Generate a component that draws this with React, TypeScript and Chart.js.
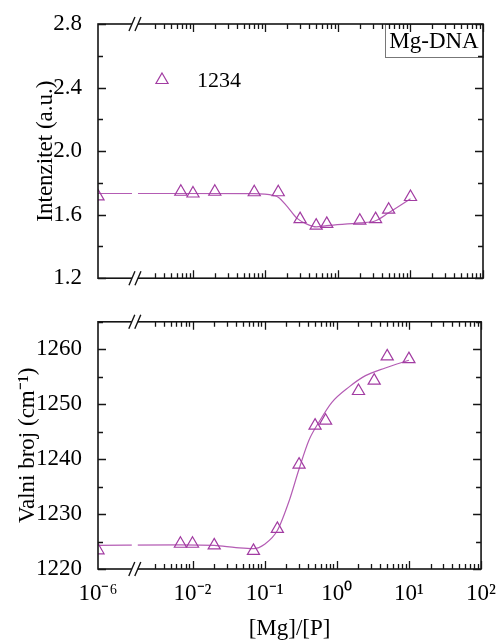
import React, { useEffect, useRef } from 'react';
import { Chart, registerables } from 'chart.js';

Chart.register(...registerables);

const FONT = "'Liberation Serif', 'Times New Roman', serif";
const PURPLE = '#A23CA2';
const PURPLE_LINE = '#B45CB4';

// ---- data ----
const mgP = [1e-6, 0.0068, 0.01, 0.02, 0.07, 0.15, 0.3, 0.5, 0.7, 2, 3.3, 5, 10];
const intensity = [1.715, 1.744, 1.733, 1.744, 1.741, 1.741, 1.572, 1.531, 1.542, 1.562, 1.572, 1.631, 1.711];
const wavenumber = [1223.4, 1224.6, 1224.6, 1224.3, 1223.3, 1227.3, 1239.0, 1246.1, 1247.0, 1252.4, 1254.3, 1258.7, 1258.2];

const fitTopX = [1e-6, 0.0068, 0.07, 0.13, 0.15, 0.2, 0.27, 0.37, 0.5, 0.7, 2, 3.3, 5, 10];
const fitTopY = [1.733, 1.733, 1.732, 1.72, 1.71, 1.65, 1.578, 1.541, 1.523, 1.531, 1.548, 1.562, 1.612, 1.7];

const fitBotX = [1e-6, 0.0068, 0.02, 0.04, 0.07, 0.1, 0.15, 0.22, 0.3, 0.41, 0.57, 0.85, 1.5, 2.5, 4.7, 10];
const fitBotY = [1224.3, 1224.4, 1224.3, 1223.9, 1223.7, 1224.5, 1227.0, 1232.5, 1238.2, 1243.4, 1246.8, 1250.3, 1253.2, 1255.2, 1256.6, 1258.0];

const xTickValues = [1e-6, 1e-2, 1e-1, 1, 10, 100];
const xTickLabels = ['10\u207B\u2076', '10\u207B\u00B2', '10\u207B\u00B9', '10\u2070', '10\u00B9', '10\u00B2'];

const legendLabel = '1234';
const boxLabel = 'Mg-DNA';
const topTitle = 'Intenzitet (a.u.)';
const botTitle = 'Valni broj (cm\u207B\u00B9)';
const xTitle = '[Mg]/[P]';

// broken log axis: 1e-6 shown left of the break
const LOW_VALUE = 1e-6;
const LOW_POS = -3.31;
const BREAK_POS = -2.8;
const X_MAX_POS = 2;
const tx = (v: number) => (v <= LOW_VALUE ? LOW_POS : Math.log10(v));

const toPts = (xs: number[], ys: number[]) => xs.map((x, i) => ({ x: tx(x), y: ys[i] }));

const MARKER_R = 7;

type Cfg = { yMin: number; yMax: number; yMinor: number; majorEvery: number; legend?: boolean; box?: boolean };

function decorPlugin(cfg: Cfg) {
  return {
    id: 'decor',
    afterDraw(chart: any) {
      const { ctx, chartArea } = chart;
      const { left, right, top, bottom } = chartArea;
      const xs = chart.scales.x;
      const ys = chart.scales.y;
      ctx.save();

      if (cfg.box) {
        const bw = 98, bh = 33;
        ctx.strokeStyle = '#777';
        ctx.lineWidth = 1;
        ctx.strokeRect(right - bw + 0.5, top + 0.5, bw, bh);
        ctx.fillStyle = '#000';
        ctx.font = `23px ${FONT}`;
        ctx.textAlign = 'center';
        ctx.textBaseline = 'middle';
        ctx.fillText(boxLabel, right - bw / 2, top + bh / 2 + 1);
      }

      if (cfg.legend) {
        const lx = left + 64, ly = top + 56, r = MARKER_R;
        ctx.strokeStyle = PURPLE;
        ctx.lineWidth = 1.2;
        ctx.beginPath();
        ctx.moveTo(lx, ly - r);
        ctx.lineTo(lx + r * 0.866, ly + r / 2);
        ctx.lineTo(lx - r * 0.866, ly + r / 2);
        ctx.closePath();
        ctx.stroke();
        ctx.fillStyle = '#000';
        ctx.font = `22px ${FONT}`;
        ctx.textAlign = 'left';
        ctx.textBaseline = 'middle';
        ctx.fillText(legendLabel, lx + 35, ly + 1);
      }

      // frame
      ctx.strokeStyle = '#151515';
      ctx.lineWidth = 1.6;
      ctx.strokeRect(left, top, right - left, bottom - top);

      // y ticks (both sides, inward)
      ctx.lineWidth = 1.3;
      ctx.beginPath();
      const n = Math.round((cfg.yMax - cfg.yMin) / cfg.yMinor);
      for (let i = 0; i <= n; i++) {
        const v = cfg.yMin + i * cfg.yMinor;
        const py = Math.round(ys.getPixelForValue(v)) + 0.5;
        const len = i % cfg.majorEvery === 0 ? 8 : 5;
        ctx.moveTo(left, py);
        ctx.lineTo(left + len, py);
        ctx.moveTo(right, py);
        ctx.lineTo(right - len, py);
      }
      // x ticks (top & bottom, inward)
      for (let d = -3; d <= 2; d++) {
        for (let k = 1; k <= 9; k++) {
          const pos = Math.log10(k) + d;
          if (pos < BREAK_POS + 0.2 || pos > X_MAX_POS + 1e-9) continue;
          const px = Math.round(xs.getPixelForValue(pos)) + 0.5;
          const len = k === 1 ? 8 : 5;
          ctx.moveTo(px, top);
          ctx.lineTo(px, top + len);
          ctx.moveTo(px, bottom);
          ctx.lineTo(px, bottom - len);
        }
      }
      ctx.stroke();

      // axis break
      const xb = xs.getPixelForValue(BREAK_POS);
      ctx.fillStyle = '#fff';
      ctx.fillRect(xb - 3, top - 2, 6, bottom - top + 4);
      ctx.strokeStyle = '#151515';
      ctx.lineWidth = 1.4;
      ctx.beginPath();
      for (const y of [top, bottom]) {
        for (const c of [-3, 3]) {
          ctx.moveTo(xb + c - 3, y + 7);
          ctx.lineTo(xb + c + 3, y - 7);
        }
      }
      ctx.stroke();
      ctx.restore();
    },
  };
}

function datasets(xs: number[], ys: number[], fx: number[], fy: number[]) {
  return [
    {
      data: toPts(xs, ys),
      showLine: false,
      pointStyle: 'triangle',
      pointRadius: MARKER_R,
      pointBorderWidth: 1.2,
      pointBorderColor: PURPLE,
      pointBackgroundColor: 'rgba(0,0,0,0)',
      borderColor: PURPLE,
    },
    {
      data: toPts(fx, fy),
      borderColor: PURPLE_LINE,
      borderWidth: 1.2,
      pointRadius: 0,
      cubicInterpolationMode: 'monotone',
      fill: false,
    },
  ];
}

export default function App() {
  const topRef = useRef<HTMLCanvasElement>(null);
  const botRef = useRef<HTMLCanvasElement>(null);

  useEffect(() => {
    Chart.defaults.font.family = FONT;
    Chart.defaults.color = '#000';

    const top = new Chart(topRef.current as HTMLCanvasElement, {
      type: 'line',
      data: { datasets: datasets(mgP, intensity, fitTopX, fitTopY) as any },
      options: {
        animation: false,
        responsive: false,
        maintainAspectRatio: false,
        layout: { padding: { left: 0, right: 16, top: 24, bottom: 15 } },
        plugins: { legend: { display: false }, tooltip: { enabled: false } },
        scales: {
          x: {
            type: 'linear',
            min: LOW_POS,
            max: X_MAX_POS,
            ticks: { display: false },
            grid: { display: false },
            border: { display: false },
            afterFit: (s: any) => { s.height = 0; },
          },
          y: {
            min: 1.2,
            max: 2.8,
            ticks: { stepSize: 0.4, padding: 8, font: { size: 23 }, color: '#000', callback: (v: any) => Number(v).toFixed(1) },
            grid: { display: false },
            border: { display: false },
            title: { display: true, text: topTitle, font: { size: 23 }, color: '#000', padding: { top: 32, bottom: 0 } },
            afterFit: (s: any) => { s.width = 98; },
          },
        },
      },
      plugins: [decorPlugin({ yMin: 1.2, yMax: 2.8, yMinor: 0.2, majorEvery: 2, legend: true, box: true })],
    } as any);

    const bot = new Chart(botRef.current as HTMLCanvasElement, {
      type: 'line',
      data: { datasets: datasets(mgP, wavenumber, fitBotX, fitBotY) as any },
      options: {
        animation: false,
        responsive: false,
        maintainAspectRatio: false,
        layout: { padding: { left: 0, right: 16, top: 8, bottom: 0 } },
        plugins: { legend: { display: false }, tooltip: { enabled: false } },
        scales: {
          x: {
            type: 'linear',
            min: LOW_POS,
            max: X_MAX_POS,
            afterBuildTicks: (s: any) => { s.ticks = xTickValues.map((v) => ({ value: tx(v) })); },
            ticks: {
              autoSkip: false,
              maxRotation: 0,
              padding: 3,
              font: { size: 23 },
              color: '#000',
              callback: (_v: any, i: number) => xTickLabels[i],
            },
            grid: { display: false },
            border: { display: false },
            title: { display: true, text: xTitle, font: { size: 23 }, color: '#000', padding: { top: 0, bottom: 0 } },
            afterFit: (s: any) => { s.height = 74; },
          },
          y: {
            min: 1220,
            max: 1265,
            ticks: { stepSize: 10, includeBounds: false, padding: 8, font: { size: 23 }, color: '#000', callback: (v: any) => String(Math.round(Number(v))) },
            grid: { display: false },
            border: { display: false },
            title: { display: true, text: botTitle, font: { size: 23 }, color: '#000', padding: { top: 14, bottom: 0 } },
            afterFit: (s: any) => { s.width = 98; },
          },
        },
      },
      plugins: [decorPlugin({ yMin: 1220, yMax: 1265, yMinor: 5, majorEvery: 2 })],
    } as any);

    return () => {
      top.destroy();
      bot.destroy();
    };
  }, []);

  return (
    <div style={{ position: 'fixed', left: 0, top: 0, width: 499, height: 643, background: '#fff' }}>
      <canvas ref={topRef} width={499} height={300} style={{ position: 'absolute', left: 0, top: 0, width: 499, height: 300 }} />
      <canvas ref={botRef} width={499} height={343} style={{ position: 'absolute', left: 0, top: 300, width: 499, height: 343 }} />
    </div>
  );
}
